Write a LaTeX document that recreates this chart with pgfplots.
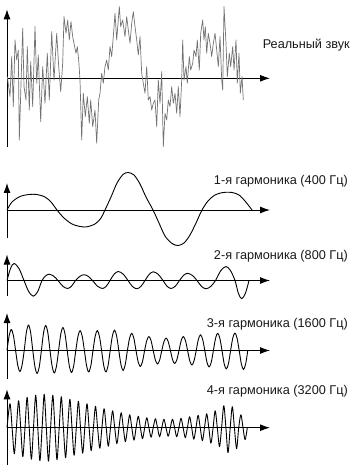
\documentclass[border=0pt]{standalone}
\usepackage{fontspec}
\setmainfont{Liberation Sans}
\usepackage{pgfplots}
\pgfplotsset{compat=1.18}
\usetikzlibrary{arrows.meta}

\pgfplotsset{
  wave/.style={
    x=1pt, y=1pt, xmin=0, xmax=263, enlargelimits=false,
    axis lines=middle, ticks=none, clip=false,
    axis line style={line width=1pt, -{Latex[length=10pt,width=7pt]}},
    anchor=origin,
  },
  harm/.style={black, line width=0.9pt, smooth, line join=round, mark=none},
}
\tikzset{lbl/.style={anchor=east, font=\fontsize{12.7}{14}\selectfont, text=black!90, inner sep=0pt}}

\begin{document}
\begin{tikzpicture}
\useasboundingbox (0,0) rectangle (355pt,-470pt);

% Panel 1: real sound
\begin{axis}[wave, at={(7pt,-78.3pt)}, ymin=-68.4, ymax=69]
\addplot[black!55, line width=0.7pt, line join=round, mark=none] coordinates {
(0.3,1.7) (3,-18.3) (4.7,21.7) (6.3,-28.3) (8,38.3) (9.7,18.3) (11.3,28.3) (12.3,-61.7)
(15.7,50) (17,-8.3) (19,-21.7) (20.3,31.7) (22.3,-31.7) (23.7,16.7) (25.7,-28.3) (28,51.7)
(29.7,-5) (31.3,23.3) (33.7,-43.3) (35.7,11.7) (38,-25) (40.3,25) (42.3,-21.7) (44.7,46.7)
(47,-1.7) (49.7,45) (51.7,11.7) (53.7,-13.3) (55.7,15) (57,61.7) (59,45) (60.7,58.3)
(62.3,38.3) (64,56.7) (65.7,41.7) (67,35) (69,25) (70.3,31.7) (71.7,18.3) (73,-1.7)
(74.7,-61.7) (76.3,-15) (78.3,-38.3) (80.3,-18.3) (82.3,-45) (83.7,-21.7) (85.7,-48.3) (88,-31.7)
(89.7,-65) (91.7,-21.7) (93,-15) (94.7,5) (96.3,-5) (98,11.7) (99.7,18.3) (101.3,8.3)
(103,31.7) (104.7,21.7) (106.3,41.7) (108,65) (109.7,38.3) (112.3,71.7) (113.7,51.7) (115.7,58.3)
(118,41.7) (119.7,61.7) (121.3,48.3) (123,35) (124.7,55) (126.3,66.7) (128,51.7) (129.7,38.3)
(131.3,23.3) (133,41.7) (134.7,5) (136.3,-5) (138,-15) (139.7,11.7) (141.3,-21.7) (143,-18.3)
(144.7,-31.7) (146.3,-25) (148,-21.7) (149.7,-48.3) (151.3,-1.7) (153,-25) (154.7,6.7) (156.3,-68.3)
(158,-35) (159.7,-41.7) (161.3,-21.7) (163,-28.3) (164.7,-8.3) (166.3,-25) (168,-15) (169.7,-35)
(171.3,-8.3) (173,-38.3) (174.7,-1.7) (175.7,38.3) (177,-1.7) (179,11.7) (180.3,-5) (182.3,21.7)
(183.7,8.3) (185.7,15) (187,28.3) (189,21.7) (190.3,38.3) (192.3,8.3) (193.7,45) (195.7,58.3)
(197,38.3) (198.3,51.7) (199.7,25) (201.3,45) (203,35) (204.7,21.7) (206.3,35) (208,45)
(209.7,28.3) (211.3,11.7) (213,41.7) (214.7,-1.7) (215.7,-11.7) (217,71.7) (219,35) (220.3,1.7)
(222.3,25) (223.7,11.7) (225.7,31.7) (227,8.3) (229,38.3) (230.3,-5) (232,25) (233.3,-15)
(235,1.7) (236.3,-21.7)
};
\node[lbl] at (axis cs:343,33.3) {Реальный звук};
\end{axis}

% Panel 2: 1st harmonic
\begin{axis}[wave, at={(7pt,-210pt)}, ymin=-28, ymax=27]
\addplot[harm] coordinates {
(0,0) (5,8) (13,13.5) (22,15.5) (30,15.5) (38,13) (44,8) (50,0) (57,-8) (66,-14.5)
(78,-17) (88,-14) (94,-8) (98,0) (104,13) (110,27) (116,35.5) (121,37.5) (127,35)
(133,26) (139,13) (146,0) (152,-13) (158,-26) (165,-33.5) (171,-35.5) (177,-33)
(183,-25) (189,-13) (195,0) (201,9) (208,15) (216,17.5) (225,17.5) (232,15) (238,9)
(242,4) (245,0)
};
\node[lbl] at (axis cs:341,28.3) {1-я гармоника (400 Гц)};
\end{axis}

% Panel 3: 2nd harmonic
\begin{axis}[wave, at={(7pt,-280.5pt)}, ymin=-15.5, ymax=26]
\addplot[harm] coordinates {
(0,0) (3.5,12) (7,17) (12,12) (17,0) (21.7,-11.1) (26.3,-15.7) (30.7,-11.1) (35,0)
(38.5,4.5) (42,6.3) (46.5,4.5) (51,0) (55.8,-5.7) (60.5,-8) (64.5,-5.7) (68.5,0)
(72.8,4.1) (77,5.8) (81.3,4.1) (85.5,0) (90.5,-5.7) (95.5,-8) (99.3,-5.7) (103,0)
(107.2,6.4) (111.3,9) (116.2,6.4) (121,0) (125.4,-5.9) (129.7,-8.3) (133.9,-5.9) (138,0)
(142.2,6.2) (146.3,8.7) (151.2,6.2) (156,0) (160,-5.7) (164,-8) (168.3,-5.7) (172.5,0)
(176.5,5.1) (180.5,7.2) (185.3,5.1) (190,0) (194.5,-5.9) (199,-8.3) (203.8,-5.9) (208.5,0)
(213.8,9.9) (219,14) (223.5,9.9) (228,0) (231.4,-12.9) (234.7,-18.3) (238.4,-12.9) (242,0)
};
\node[lbl] at (axis cs:341,24.5) {2-я гармоника (800 Гц)};
\end{axis}

% Panel 4: 3rd harmonic
\begin{axis}[wave, at={(7pt,-350.5pt)}, ymin=-28, ymax=37.5]
\addplot[harm] coordinates {
(0,0) (2.15,14.8) (4.3,21) (6.45,14.8)
(8.6,0) (10.75,-14.8) (12.9,-21) (15.05,-14.8)
(17.2,0) (19.35,18) (21.5,25.5) (23.65,18)
(25.8,0) (27.95,-16.3) (30.1,-23) (32.25,-16.3)
(34.4,0) (36.55,17.7) (38.7,25) (40.85,17.7)
(43,0) (45.15,-15.9) (47.3,-22.5) (49.45,-15.9)
(51.6,0) (53.75,16.3) (55.9,23) (58.05,16.3)
(60.2,0) (62.35,-15.6) (64.5,-22) (66.65,-15.6)
(68.8,0) (70.95,14.1) (73.1,20) (75.25,14.1)
(77.4,0) (79.55,-15.2) (81.7,-21.5) (83.85,-15.2)
(86,0) (88.15,14.1) (90.3,20) (92.45,14.1)
(94.6,0) (96.75,-15.2) (98.9,-21.5) (101.05,-15.2)
(103.2,0) (105.35,14.5) (107.5,20.5) (109.65,14.5)
(111.8,0) (113.95,-14.1) (116.1,-20) (118.25,-14.1)
(120.4,0) (122.55,12.2) (124.7,17.3) (126.85,12.2)
(129,0) (131.15,-11.3) (133.3,-16) (135.45,-11.3)
(137.6,0) (139.75,9.9) (141.9,14) (144.05,9.9)
(146.2,0) (148.35,-9.5) (150.5,-13.5) (152.65,-9.5)
(154.8,0) (156.95,8.8) (159.1,12.5) (161.25,8.8)
(163.4,0) (165.55,-9.2) (167.7,-13) (169.85,-9.2)
(172,0) (174.15,9.9) (176.3,14) (178.45,9.9)
(180.6,0) (182.75,-10.3) (184.9,-14.5) (187.05,-10.3)
(189.2,0) (191.35,11.1) (193.5,15.7) (195.65,11.1)
(197.8,0) (199.95,-11.7) (202.1,-16.5) (204.25,-11.7)
(206.4,0) (208.55,12.2) (210.7,17.3) (212.85,12.2)
(215,0) (217.15,-13.1) (219.3,-18.5) (221.45,-13.1)
(223.6,0) (225.75,12.4) (227.9,17.5) (230.05,12.4)
(232.2,0) (234.35,-13.4) (236.5,-19) (238.65,-13.4)
(240.8,0)
};
\node[lbl] at (axis cs:341,26.5) {3-я гармоника (1600 Гц)};
\end{axis}

% Panel 5: 4th harmonic
\begin{axis}[wave, at={(7pt,-427.7pt)}, ymin=-37.3, ymax=38.4]
\addplot[harm] coordinates {
(0,0) (3,24) (5.1,0) (7.3,-26) (9.4,0) (11.6,27) (13.7,0) (15.8,-29) (18,0) (20.1,30.5)
(22.2,0) (24.4,-31.5) (26.5,0) (28.7,32.5) (30.8,0) (32.9,-33) (35.1,0) (37.2,33.5)
(39.3,0) (41.5,-33.5) (43.6,0) (45.8,32.5) (47.9,0) (50,-32) (52.2,0) (54.3,31) (56.4,0)
(58.6,-30) (60.7,0) (62.9,28.5) (65,0) (67.1,-27.5) (69.3,0) (71.4,26.5) (73.5,0)
(75.7,-25.5) (77.8,0) (80,24) (82.1,0) (84.2,-23) (86.4,0) (88.5,21.5) (90.6,0)
(92.8,-20.5) (94.9,0) (97.1,19) (99.2,0) (101.3,-18.5) (103.5,0) (105.6,17) (107.7,0)
(109.9,-16) (112,0) (114.2,15) (116.3,0) (118.4,-14) (120.6,0) (122.7,13) (124.8,0)
(127,-12.5) (129.1,0) (131.3,11.5) (133.4,0) (135.5,-11) (137.7,0) (139.8,10) (141.9,0)
(144.1,-9.5) (146.2,0) (148.4,9) (150.5,0) (152.6,-9) (154.8,0) (156.9,8.5) (159,0)
(161.2,-8.5) (163.3,0) (165.5,8.5) (167.6,0) (169.7,-9) (171.9,0) (174,9.5) (176.1,0)
(178.3,-10) (180.4,0) (182.6,11) (184.7,0) (186.8,-11.5) (189,0) (191.1,12.5) (193.2,0)
(195.4,-13) (197.5,0) (199.7,14) (201.8,0) (203.9,-15.5) (206.1,0) (208.2,17) (210.3,0)
(212.5,-19) (214.6,0) (216.8,22) (218.9,0) (221,-25) (223.2,0) (225.3,21) (227.4,0)
(229.6,-21) (231.7,0) (233.9,13) (236,0) (238.1,-12) (240.3,0)
};
\node[lbl] at (axis cs:341,36) {4-я гармоника (3200 Гц)};
\end{axis}
\end{tikzpicture}
\end{document}
